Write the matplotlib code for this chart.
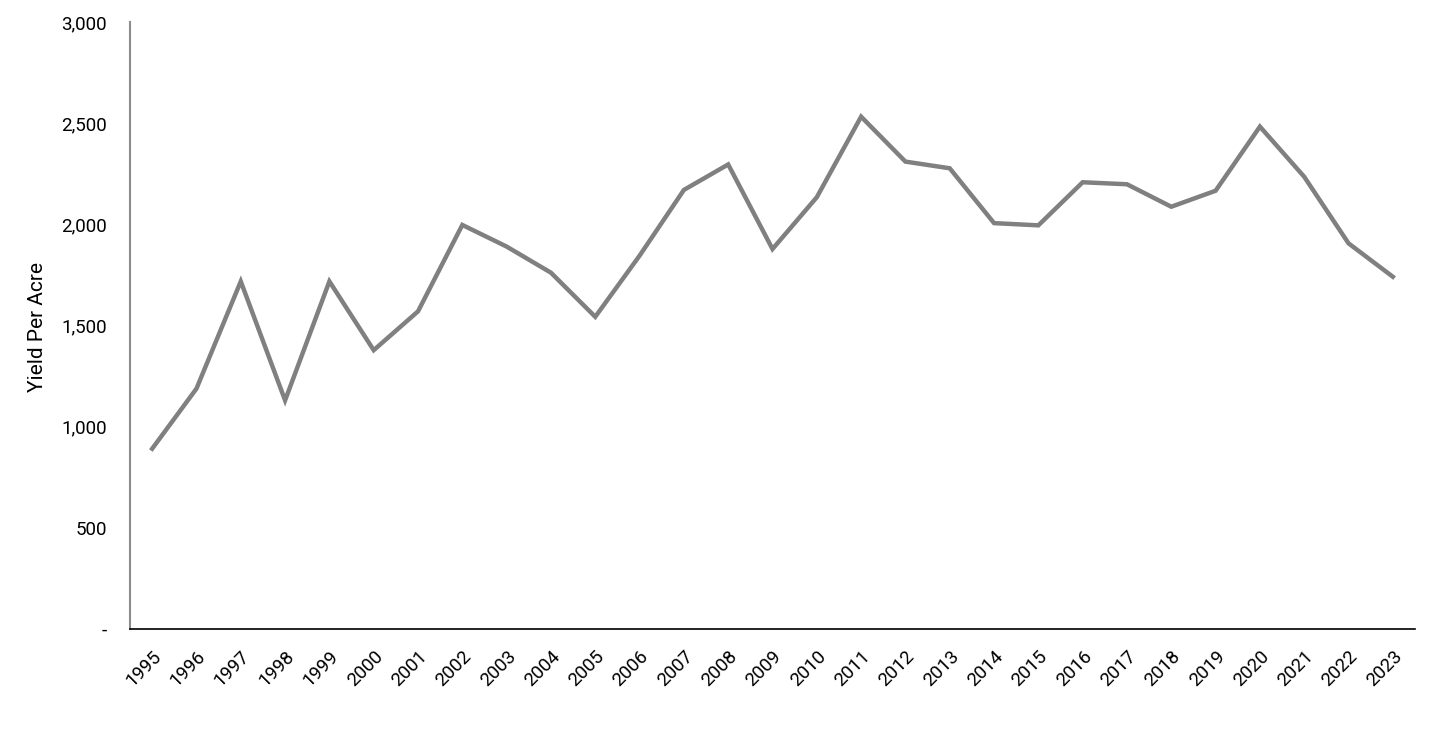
import matplotlib
matplotlib.use('Agg')
from matplotlib import pyplot as plt
from matplotlib.ticker import FuncFormatter

years = [str(y) for y in range(1995, 2024)]
yield_per_acre = [891, 1188, 1718, 1130, 1718, 1378, 1570, 1997, 1890, 1761,
                  1543, 1845, 2170, 2296, 1878, 2134, 2532, 2310, 2277, 2006,
                  1995, 2208, 2198, 2087, 2166, 2483, 2235, 1906, 1741]
y_ticks = [0, 500, 1000, 1500, 2000, 2500, 3000]

plt.rcParams['font.family'] = ['Roboto', 'DejaVu Sans']

fig = plt.figure(figsize=(14.39, 7.45), dpi=100)
ax = fig.add_axes([130 / 1439, 1 - 629 / 745, 1285 / 1439, 607 / 745])

x = list(range(len(years)))
ax.plot(x, yield_per_acre, color='#808080', lw=3.2, solid_joinstyle='miter')

ax.set_xlim(-0.5, len(years) - 0.5)
ax.set_ylim(0, 3000)
ax.set_yticks(y_ticks)
ax.yaxis.set_major_formatter(FuncFormatter(lambda v, p: '-' if v == 0 else f'{int(v):,}'))
ax.set_xticks(x)
ax.set_xticklabels(years, rotation=45, ha='right', va='top', rotation_mode='anchor')

ax.tick_params(axis='y', length=0, pad=16.5, labelsize=13.5, colors='black')
ax.tick_params(axis='x', length=0, pad=13, labelsize=13.5, colors='black')

for s in ['top', 'right']:
    ax.spines[s].set_visible(False)
ax.spines['left'].set_color('#8c8c8c')
ax.spines['left'].set_linewidth(1.5)
ax.spines['bottom'].set_color('black')
ax.spines['bottom'].set_linewidth(1.2)

ax.set_ylabel('Yield Per Acre', fontsize=15)
ax.yaxis.set_label_coords((47 - 130) / 1285, 0.497)

fig.savefig('out.png', dpi=100)
